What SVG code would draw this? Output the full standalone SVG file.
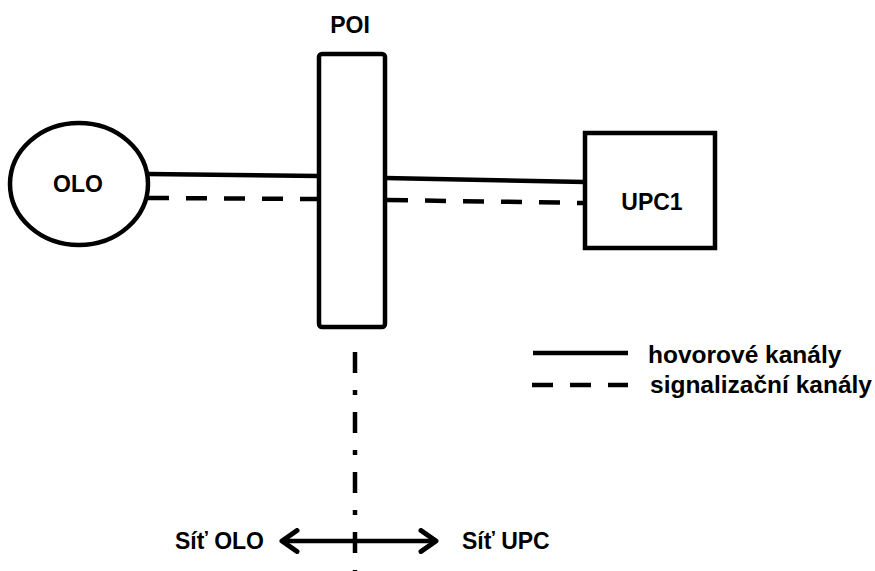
<svg xmlns="http://www.w3.org/2000/svg" width="875" height="571" viewBox="0 0 875 571">
<defs>
<style>
.t{font-family:"Liberation Sans",Arial,sans-serif;font-weight:bold;font-size:23px;fill:#000}
.l{font-size:24.5px}
.s{fill:#fff;stroke:#000;stroke-width:4.5}
.c{fill:none;stroke:#000;stroke-width:4.5}
.d{stroke-dasharray:21 17}
</style>
<marker id="ah" viewBox="0 0 22 26" refX="18" refY="13" markerWidth="22" markerHeight="26" markerUnits="userSpaceOnUse" orient="auto-start-reverse">
<path d="M3 2.5 L18 13 L3 23.5" fill="none" stroke="#000" stroke-width="5" stroke-linecap="round" stroke-linejoin="round"/>
</marker>
</defs>
<rect width="875" height="571" fill="#fff"/>
<g id="connectors">
<line class="c" x1="148" y1="174" x2="319" y2="176"/>
<line class="c d" x1="148" y1="198" x2="319" y2="199"/>
<line class="c" x1="385" y1="178" x2="585" y2="182"/>
<line class="c d" x1="387" y1="200" x2="585" y2="203"/>
<line class="c" x1="355" y1="352" x2="355" y2="575" stroke-width="5.5" stroke-dasharray="21 17 5 17"/>
<line class="c" x1="282" y1="541" x2="436" y2="541" marker-start="url(#ah)" marker-end="url(#ah)"/>
</g>
<g id="olo">
<ellipse class="s" cx="79" cy="184" rx="69" ry="61"/>
<text class="t" x="78" y="192" text-anchor="middle">OLO</text>
</g>
<g id="poi">
<rect class="s" x="319" y="54" width="66" height="273" rx="3"/>
<text class="t" x="350" y="33" text-anchor="middle">POI</text>
</g>
<g id="upc1">
<rect class="s" x="585" y="133" width="130" height="115"/>
<text class="t" x="652" y="210" text-anchor="middle">UPC1</text>
</g>
<g id="legend">
<line class="c" x1="533" y1="353" x2="628" y2="353"/>
<line class="c d" x1="532" y1="385" x2="628" y2="385"/>
<text class="t l" x="648" y="363">hovorové kanály</text>
<text class="t l" x="650" y="393">signalizační kanály</text>
</g>
<g id="labels">
<text class="t" x="175" y="549">Síť OLO</text>
<text class="t" x="462" y="549">Síť UPC</text>
</g>
</svg>
